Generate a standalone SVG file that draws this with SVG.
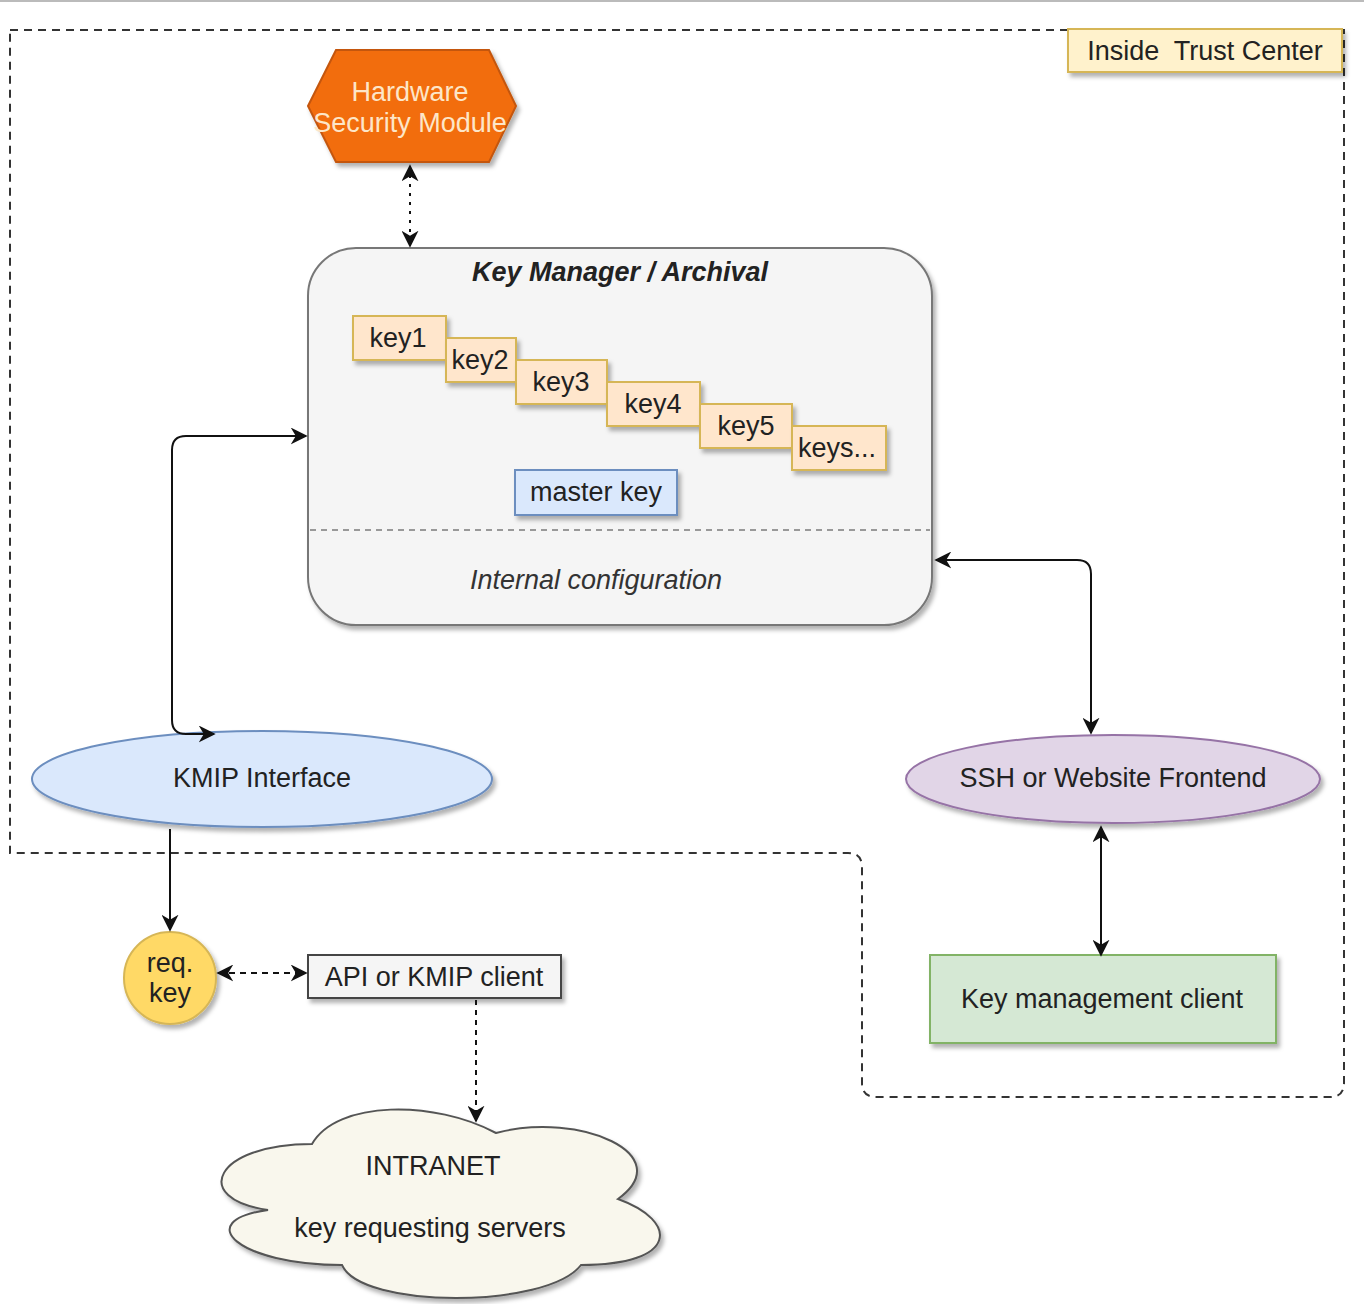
<svg xmlns="http://www.w3.org/2000/svg" width="1364" height="1304" viewBox="0 0 1364 1304">
<style>
text{font-family:"Liberation Sans",Arial,sans-serif;font-size:27px;fill:#222;text-anchor:middle}
.sh{filter:url(#shadow)}
.conn{fill:none;stroke:#111;stroke-width:2}
.key{fill:#ffe6cc;stroke:#d6b656;stroke-width:2}
</style>
<defs>
<filter id="shadow" x="-10%" y="-10%" width="130%" height="140%">
<feDropShadow dx="3" dy="4" stdDeviation="2" flood-color="#000" flood-opacity="0.3"/>
</filter>
<marker id="arr" viewBox="0 0 10 10" refX="9" refY="5" markerWidth="17" markerHeight="17" markerUnits="userSpaceOnUse" orient="auto-start-reverse">
<path d="M0,0 L10,5 L0,10 L3,5 Z" fill="#111"/>
</marker>
</defs>
<rect width="1364" height="1304" fill="#fff"/>
<line x1="0" y1="1" x2="1364" y2="1" stroke="#bbb" stroke-width="2"/>

<g id="trust-boundary">
<path d="M10 30 H1344 V1083 Q1344 1097 1330 1097 H876 Q862 1097 862 1083 V867 Q862 853 848 853 H10 Z" fill="none" stroke="#333" stroke-width="2" stroke-dasharray="8 6"/>
</g>

<g id="label-inside-trust-center">
<rect class="sh" x="1068" y="29" width="274" height="43" fill="#fff2cc" stroke="#d6b656" stroke-width="2"/>
<text x="1205" y="60" style="white-space:pre">Inside  Trust Center</text>
</g>

<g id="hsm">
<polygon class="sh" points="308,106 336,50 489,50 516,106 489,162 336,162" fill="#f26d10" stroke="#c4560a" stroke-width="2"/>
<text x="410" y="101" style="fill:#fde6c8">Hardware</text>
<text x="410" y="132" style="fill:#fde6c8">Security Module</text>
</g>

<g id="key-manager">
<rect class="sh" x="308" y="248" width="624" height="377" rx="48" fill="#f5f5f5" stroke="#777" stroke-width="2"/>
<text x="620" y="281" font-weight="bold" font-style="italic">Key Manager / Archival</text>
<line x1="310" y1="530" x2="930" y2="530" stroke="#999" stroke-width="2" stroke-dasharray="6 5"/>
<text x="596" y="589" font-style="italic" style="fill:#333">Internal configuration</text>
</g>

<g id="key1"><rect class="key sh" x="353" y="316" width="93" height="44"/><text x="398" y="347">key1</text></g>
<g id="key2"><rect class="key sh" x="446" y="338" width="70" height="44"/><text x="480" y="369">key2</text></g>
<g id="key3"><rect class="key sh" x="516" y="360" width="91" height="44"/><text x="561" y="391">key3</text></g>
<g id="key4"><rect class="key sh" x="607" y="382" width="93" height="44"/><text x="653" y="413">key4</text></g>
<g id="key5"><rect class="key sh" x="700" y="404" width="92" height="44"/><text x="746" y="435">key5</text></g>
<g id="keys-more"><rect class="key sh" x="792" y="426" width="94" height="44"/><text x="837" y="457">keys...</text></g>

<g id="master-key">
<rect class="sh" x="515" y="470" width="162" height="45" fill="#dae8fc" stroke="#6c8ebf" stroke-width="2"/>
<text x="596" y="501">master key</text>
</g>

<g id="kmip-interface">
<ellipse class="sh" cx="262" cy="779" rx="230" ry="48" fill="#dae8fc" stroke="#6c8ebf" stroke-width="2"/>
<text x="262" y="787">KMIP Interface</text>
</g>

<g id="ssh-frontend">
<ellipse class="sh" cx="1113" cy="779" rx="207" ry="44" fill="#e1d5e7" stroke="#9673a6" stroke-width="2"/>
<text x="1113" y="787">SSH or Website Frontend</text>
</g>

<g id="key-management-client">
<rect class="sh" x="930" y="955" width="346" height="88" fill="#d5e8d4" stroke="#82b366" stroke-width="2"/>
<text x="1102" y="1008">Key management client</text>
</g>

<g id="req-key">
<circle class="sh" cx="170" cy="978" r="46" fill="#ffd966" stroke="#d6b656" stroke-width="2"/>
<text x="170" y="972">req.</text>
<text x="170" y="1002">key</text>
</g>

<g id="api-client">
<rect class="sh" x="308" y="955" width="253" height="43" fill="#f5f5f5" stroke="#444" stroke-width="2"/>
<text x="434" y="986">API or KMIP client</text>
</g>

<g id="intranet">
<path class="sh" transform="translate(190,1089)" d="M122 55 C24 55 0 110 78 121 C0 132 49 176 152 176 C171 220 357 220 391 176 C489 176 489 132 428 110 C489 66 391 22 306 44 C245 11 147 11 122 55 Z" fill="#f9f7ed" stroke="#555" stroke-width="2"/>
<text x="433" y="1175">INTRANET</text>
<text x="430" y="1237">key requesting servers</text>
</g>

<g id="connectors">
<path class="conn" d="M410 166 V246" stroke-dasharray="3 6" marker-start="url(#arr)" marker-end="url(#arr)"/>
<path class="conn" d="M214 734 H186 Q172 734 172 720 V450 Q172 436 186 436 H306" marker-start="url(#arr)" marker-end="url(#arr)"/>
<path class="conn" d="M936 560 H1077 Q1091 560 1091 574 V733" marker-start="url(#arr)" marker-end="url(#arr)"/>
<path class="conn" d="M1101 827 V955" stroke="#444" stroke-width="3" marker-start="url(#arr)" marker-end="url(#arr)"/>
<path class="conn" d="M170 829 V930" marker-end="url(#arr)"/>
<path class="conn" d="M218 973 H306" stroke-dasharray="6 5" marker-start="url(#arr)" marker-end="url(#arr)"/>
<path class="conn" d="M476 1000 V1121" stroke-dasharray="5 5" marker-end="url(#arr)"/>
</g>
</svg>
